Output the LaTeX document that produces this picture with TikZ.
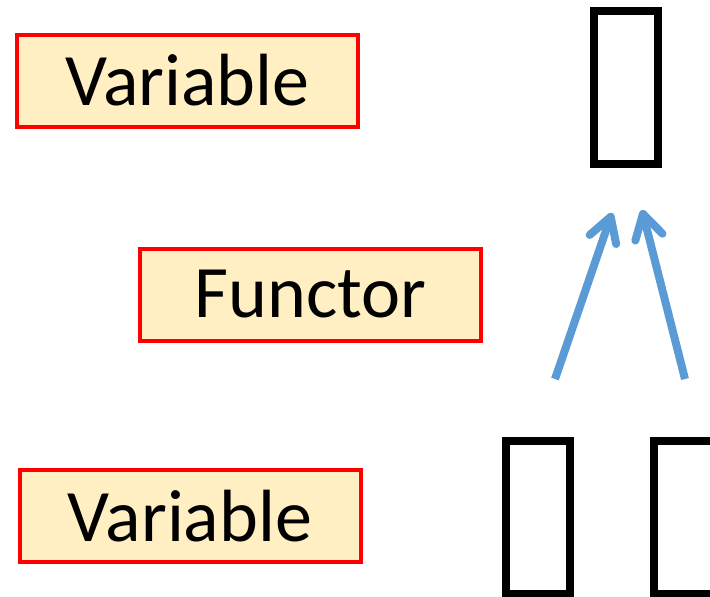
\documentclass[tikz,border=0pt]{standalone}
\usepackage{fontspec}
\setmainfont{Carlito}
\usetikzlibrary{arrows.meta}
\definecolor{boxfill}{HTML}{FFEFC2}
\definecolor{boxline}{HTML}{FF0000}
\definecolor{arrowblue}{HTML}{5B9BD5}
\begin{document}
\begin{tikzpicture}[x=1pt,y=-1pt,
  labelbox/.style={draw=boxline, fill=boxfill, line width=4pt, inner sep=0pt,
    minimum width=341pt, minimum height=92pt,
    font=\fontsize{74}{82}\selectfont},
  glyphbox/.style={draw=black, line width=8pt, inner sep=0pt,
    minimum width=64pt, minimum height=153pt},
  uparrow/.style={draw=arrowblue, line width=8pt,
    -{Straight Barb[length=24pt, width=28pt, round]}}]
  \useasboundingbox (0,0) rectangle (710,597);
  \clip (0,0) rectangle (710,597);

  % labels on the left
  \node[labelbox] (vartop) at (187.5,80.5) {Variable};
  \node[labelbox] (functor) at (310.5,294.5) {Functor};
  \node[labelbox] (varbot) at (190,516) {Variable};

  % placeholder glyph boxes on the right
  \node[glyphbox] (gtop) at (626,87.5) {};
  \node[glyphbox] (gleft) at (537.5,517.5) {};
  \node[glyphbox] (gright) at (686,517.5) {};

  % arrows pointing up towards the top box
  \coordinate (s1) at (555,379);
  \coordinate (t1) at (612,213);
  \coordinate (s2) at (685,379);
  \coordinate (t2) at (642,210);
  \draw[uparrow] (s1) -- (t1);
  \draw[uparrow] (s2) -- (t2);
\end{tikzpicture}
\end{document}
